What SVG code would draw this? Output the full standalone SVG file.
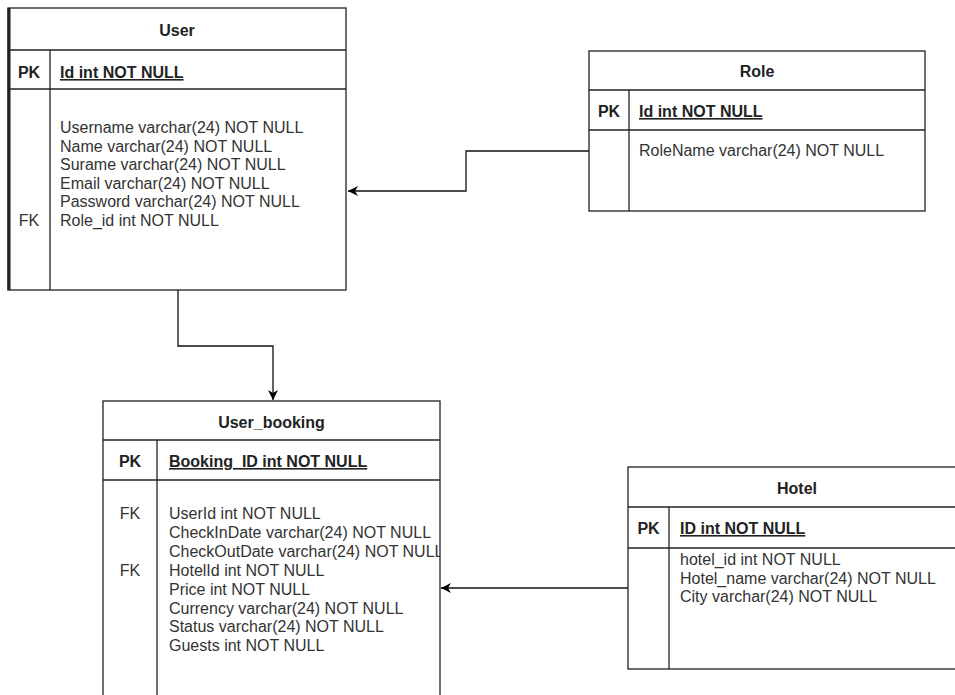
<svg xmlns="http://www.w3.org/2000/svg" width="955" height="695" viewBox="0 0 955 695">
<defs>
<marker id="arr" viewBox="0 0 10 10" refX="10" refY="5" markerWidth="10" markerHeight="10" markerUnits="userSpaceOnUse" orient="auto">
<path d="M0,0 L10,5 L0,10 L3,5 Z" fill="#000"/>
</marker>
<style>
.box{fill:#fff;stroke:#222;stroke-width:1.3}
.ln{stroke:#222;stroke-width:1.3;fill:none}
.t{font-family:"Liberation Sans",Arial,sans-serif;font-size:16px;fill:#333}
.b{font-weight:bold;fill:#222}
.c{text-anchor:middle}
.u{text-decoration:underline}
.conn{stroke:#111;stroke-width:1.3;fill:none}
</style>
</defs>
<rect width="955" height="695" fill="#fff"/>

<g id="connectors">
<path class="conn" d="M589,151 H466 V191 H348" marker-end="url(#arr)"/>
<path class="conn" d="M178,290 V346 H273 V400" marker-end="url(#arr)"/>
<path class="conn" d="M628,588 H441" marker-end="url(#arr)"/>
</g>

<g id="user">
<rect class="box" x="8" y="8" width="338" height="282"/>
<line class="ln" x1="9" y1="8" x2="9" y2="290" style="stroke-width:3"/>
<line class="ln" x1="8" y1="50" x2="346" y2="50"/>
<line class="ln" x1="8" y1="89" x2="346" y2="89"/>
<line class="ln" x1="50" y1="50" x2="50" y2="290"/>
<text class="t b c" x="177" y="36">User</text>
<text class="t b c" x="29" y="78">PK</text>
<text class="t b u" x="60" y="78">Id int NOT NULL</text>
<text class="t" x="60" y="133">Username varchar(24) NOT NULL</text>
<text class="t" x="60" y="151.5">Name varchar(24) NOT NULL</text>
<text class="t" x="60" y="170">Surame varchar(24) NOT NULL</text>
<text class="t" x="60" y="188.5">Email varchar(24) NOT NULL</text>
<text class="t" x="60" y="207">Password varchar(24) NOT NULL</text>
<text class="t" x="60" y="225.5">Role_id int NOT NULL</text>
<text class="t c" x="29" y="225.5">FK</text>
</g>

<g id="role">
<rect class="box" x="589" y="51" width="336" height="160"/>
<line class="ln" x1="589" y1="90" x2="925" y2="90"/>
<line class="ln" x1="589" y1="130" x2="925" y2="130"/>
<line class="ln" x1="629" y1="90" x2="629" y2="211"/>
<text class="t b c" x="757" y="77">Role</text>
<text class="t b c" x="609" y="117">PK</text>
<text class="t b u" x="639" y="117">Id int NOT NULL</text>
<text class="t" x="639" y="156">RoleName varchar(24) NOT NULL</text>
</g>

<g id="user_booking">
<clipPath id="ubclip"><rect x="103" y="401" width="337" height="300"/></clipPath>
<rect class="box" x="103" y="401" width="337" height="310"/>
<line class="ln" x1="103" y1="440" x2="440" y2="440"/>
<line class="ln" x1="103" y1="480" x2="440" y2="480"/>
<line class="ln" x1="157" y1="440" x2="157" y2="695"/>
<text class="t b c" x="271.5" y="428">User_booking</text>
<text class="t b c" x="130" y="467">PK</text>
<text class="t b u" x="169" y="467">Booking_ID int NOT NULL</text>
<text class="t c" x="130" y="519">FK</text>
<text class="t c" x="130" y="576">FK</text>
<g clip-path="url(#ubclip)">
<text class="t" x="169" y="519">UserId int NOT NULL</text>
<text class="t" x="169" y="538">CheckInDate varchar(24) NOT NULL</text>
<text class="t" x="169" y="557">CheckOutDate varchar(24) NOT NULL</text>
<text class="t" x="169" y="576">HotelId int NOT NULL</text>
<text class="t" x="169" y="595">Price int NOT NULL</text>
<text class="t" x="169" y="613.5">Currency varchar(24) NOT NULL</text>
<text class="t" x="169" y="632">Status varchar(24) NOT NULL</text>
<text class="t" x="169" y="651">Guests int NOT NULL</text>
</g>
</g>

<g id="hotel">
<rect class="box" x="628" y="467" width="338" height="202"/>
<line class="ln" x1="628" y1="507" x2="966" y2="507"/>
<line class="ln" x1="628" y1="548" x2="966" y2="548"/>
<line class="ln" x1="669" y1="507" x2="669" y2="669"/>
<text class="t b c" x="797" y="494">Hotel</text>
<text class="t b c" x="648.5" y="534">PK</text>
<text class="t b u" x="680" y="534">ID int NOT NULL</text>
<text class="t" x="680" y="565">hotel_id int NOT NULL</text>
<text class="t" x="680" y="583.5">Hotel_name varchar(24) NOT NULL</text>
<text class="t" x="680" y="602">City varchar(24) NOT NULL</text>
</g>
</svg>
